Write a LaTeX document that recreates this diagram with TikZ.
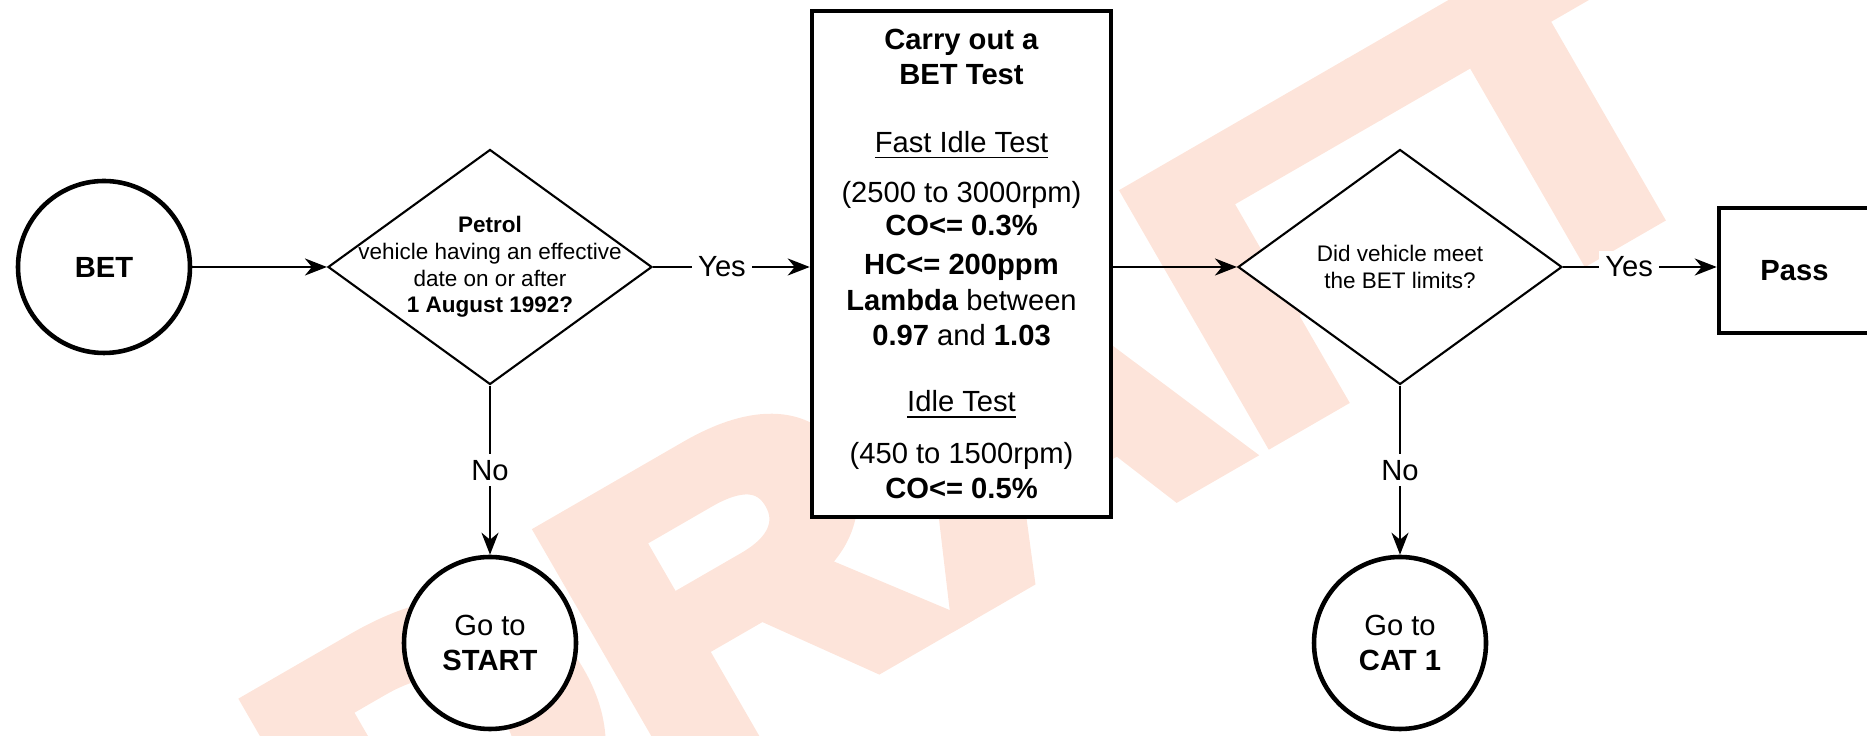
\documentclass[tikz,border=0pt]{standalone}
\usepackage{fontspec}
\setmainfont{Liberation Sans}
\newfontfamily\wmfont[BoldFeatures={FakeBold=6.5,FakeStretch=1.18}]{Liberation Sans}
\usepackage{tikz}
\usetikzlibrary{shapes.geometric,arrows.meta}
\definecolor{wmpink}{RGB}{253,228,218}

\begin{document}
\begin{tikzpicture}[x=0.1mm,y=0.1mm,
    term/.style={circle,draw,line width=1.3pt,fill=white,minimum size=17.2mm,inner sep=0pt,align=center,font=\fontsize{8.3}{10}\selectfont},
    decision/.style={diamond,draw,line width=0.6pt,fill=white,minimum width=32.4mm,minimum height=23.5mm,inner sep=0pt},
    qtext/.style={align=center,font=\fontsize{6.4}{7.6}\selectfont},
    stepbox/.style={rectangle,draw,line width=1.3pt,fill=white,align=center,font=\fontsize{8.3}{10}\selectfont},
    flow/.style={line width=0.7pt,-{Stealth[length=2.2mm,width=1.7mm,inset=0.7mm]}},
    answer/.style={fill=white,inner sep=0.6mm,font=\fontsize{8.3}{10}\selectfont}]

  \useasboundingbox (0,0) rectangle (1867,736);
  \node[rotate=30,anchor=base west,inner sep=0pt,text=wmpink,font=\wmfont\bfseries\fontsize{113.2}{113.2}\selectfont] (wm) at (365.1,-220.5) {DRAFT};

  \node[term] (bet) at (104,469) {\textbf{BET}};
  \node[decision,label={[qtext]center:{\textbf{Petrol}\\vehicle having an effective\\date on or after\\\textbf{1 August 1992?}}}] (d1) at (490,469) {};
  \node[stepbox,minimum width=29.9mm,minimum height=50.6mm] (test) at (961.5,472)
    {\textbf{Carry out a}\\\textbf{BET Test}\\[9.2pt]\underline{Fast Idle Test}\\[4.3pt](2500 to 3000rpm)\\[-0.6pt]\textbf{CO<= 0.3\%}\\[1.2pt]\textbf{HC<= 200ppm}\\\textbf{Lambda} between\\\textbf{0.97} and \textbf{1.03}\\[8.9pt]\underline{Idle Test}\\[4.7pt](450 to 1500rpm)\\\textbf{CO<= 0.5\%}};
  \node[decision,label={[qtext]center:{Did vehicle meet\\the BET limits?}}] (d2) at (1400,469) {};
  \node[stepbox,minimum width=15.1mm,minimum height=12.5mm] (pass) at (1794.5,465.5) {\textbf{Pass}};
  \node[term] (start) at (490,93) {Go to\\\textbf{START}};
  \node[term] (cat) at (1400,93) {Go to\\\textbf{CAT 1}};

  \draw[flow] (bet) -- (d1);
  \draw[flow] (d1) -- node[answer,pos=0.44] {Yes} (test.west |- d1);
  \draw[flow] (test.east |- d2) -- (d2);
  \draw[flow] (d2) -- node[answer,pos=0.43] {Yes} (pass.west |- d2);
  \draw[flow] (d1) -- node[answer] {No} (start);
  \draw[flow] (d2) -- node[answer] {No} (cat);
\end{tikzpicture}
\end{document}
